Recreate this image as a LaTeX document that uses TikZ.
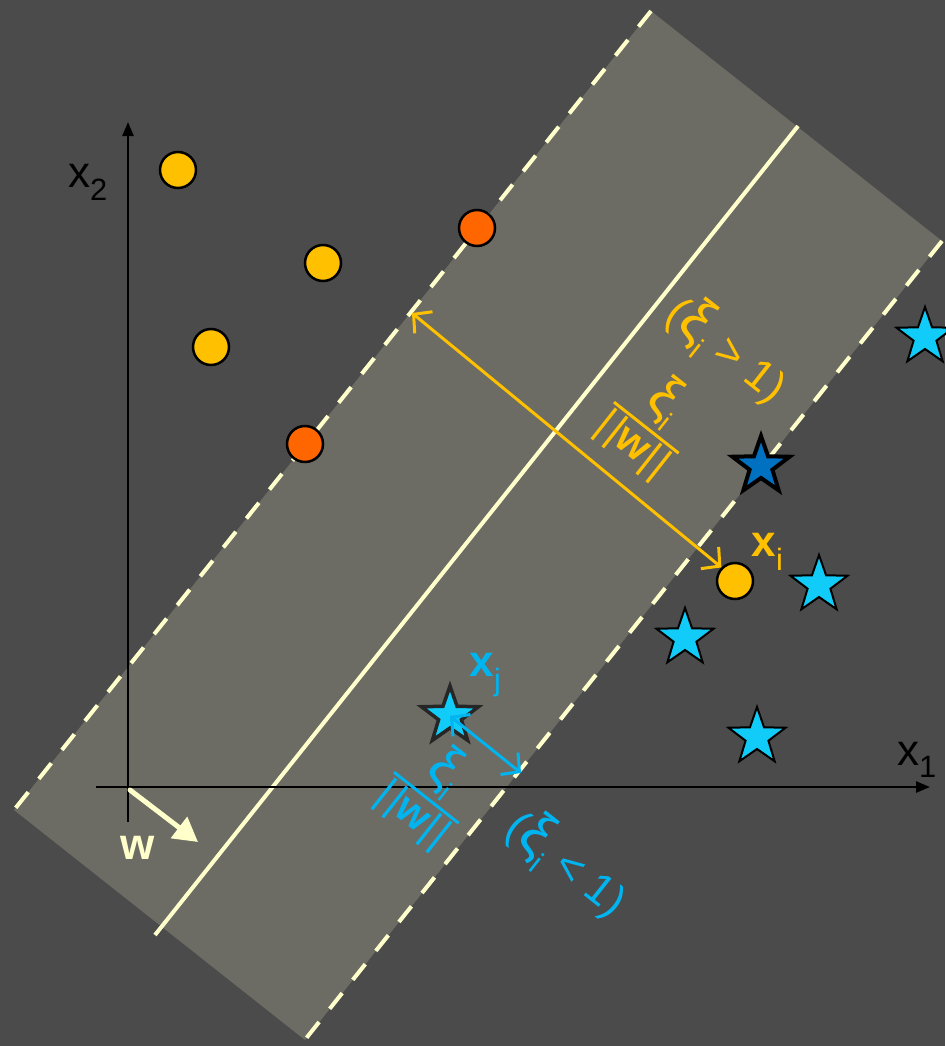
\documentclass[tikz,border=0pt]{standalone}
\usepackage{fontspec}
\usepackage{graphicx}
\setmainfont{Liberation Sans}
\usetikzlibrary{arrows.meta, shapes.geometric, positioning}
\definecolor{bgc}{HTML}{4B4B4B}
\definecolor{bandc}{HTML}{6C6C64}
\definecolor{palec}{HTML}{FFFFCC}
\definecolor{goldc}{HTML}{FFC000}
\definecolor{redc}{HTML}{FF6600}
\definecolor{starc}{HTML}{11CCF8}
\definecolor{cyanc}{HTML}{00B4F0}
\definecolor{deepc}{HTML}{0070C0}
\newcommand{\bigfont}{\fontsize{44}{48}\selectfont}
\newcommand{\fracfont}{\fontsize{42}{46}\selectfont}
\newcommand{\bigxi}{\scalebox{1.35}{ξ}}
\newcommand{\slackfrac}{\begin{tabular}{@{\hspace{1pt}}c@{\hspace{1pt}}}\bigxi\textsubscript{i}\\[3pt]\hline|\hspace{2pt}|\textbf{w}|\hspace{2pt}|\end{tabular}}

\begin{document}
\begin{tikzpicture}[x=1pt, y=-1pt,
        margin line/.style={line width=4pt, palec, dash pattern=on 20pt off 17pt},
        hyper line/.style={line width=4pt, palec},
        axis line/.style={line width=2.5pt, black, -{Triangle[length=14pt, width=11pt]}},
        dot/.style={circle, draw=black, line width=2.5pt, minimum size=36pt, inner sep=0pt},
        gold dot/.style={dot, fill=goldc},
        red dot/.style={dot, fill=redc},
        starpt/.style={star, star points=5, star point ratio=2.5, minimum size=60pt,
            inner sep=0pt, draw=black, line width=2pt, fill=starc},
        slack arrow/.style={line width=3pt, {Straight Barb[length=13pt, width=28pt]}-{Straight Barb[length=13pt, width=28pt]}},
        axis label/.style={font=\bigfont, text=black},
        slack label/.style={font=\fracfont, rotate=-38.3, inner sep=0pt},
    ]

    % Background and margin band
    \fill[bgc] (0,0) rectangle (945,1046);
    \useasboundingbox (0,0) rectangle (945,1046);
    \begin{scope}
        \clip (0,0) rectangle (945,1046);
        \fill[bandc] (651,11) -- (942,241) -- (305,1040) -- (14,810) -- cycle;
        \draw[margin line] (651,11) -- (14,810);
        \draw[margin line] (942,241) -- (300,1046);
        \draw[hyper line] (798,126) -- (155,935);
    \end{scope}

    % Axes
    \draw[axis line] (128,822) -- (128,122);
    \draw[axis line] (96,787) -- (930,787);
    \node[axis label] (lx2) at (88,182) {x\textsubscript{2}};
    \node[axis label] (lx1) at (917,760) {x\textsubscript{1}};

    % Normal vector
    \draw[palec, line width=5pt, line cap=round, -{Triangle[length=24pt, width=26pt]}] (130,790) -- (198,842);
    \node[font=\bigfont\bfseries, text=palec] (lw) at (138,848) {w};

    % Class one: circles
    \node[gold dot] (o1) at (178,170) {};
    \node[gold dot] (o2) at (323,263) {};
    \node[gold dot] (o3) at (211,347) {};
    \node[red dot] (r1) at (477,228) {};
    \node[red dot] (r2) at (305,444) {};
    \node[gold dot] (xi) at (735,581) {};
    \node[font=\bigfont, text=goldc, anchor=west] (lxi) at (748,552) {\textbf{x}\textsubscript{i}};

    % Class two: stars
    \node[starpt] (s1) at (925,337) {};
    \node[starpt] (s2) at (819,585) {};
    \node[starpt] (s3) at (685,638) {};
    \node[starpt] (s4) at (757,737) {};
    \node[starpt, fill=deepc, line width=4pt] (sd) at (761,466) {};
    \node[starpt, draw=black!85, line width=3.5pt] (xj) at (450,716) {};
    \node[font=\bigfont, text=cyanc, anchor=west] (lxj) at (466,675) {\textbf{x}\textsubscript{j}};

    % Slack distances
    \coordinate (mL) at (412,313);
    \coordinate (mR) at (521,773);
    \draw[slack arrow, goldc] (mL) -- (xi.north west);
    \draw[slack arrow, cyanc] (xj.center) -- (mR);

    % Slack labels
    \setlength{\arrayrulewidth}{3pt}
    \node[slack label, text=goldc] (fi) at (650,423) {\slackfrac};
    \node[slack label, text=cyanc] (fj) at (430,793) {\slackfrac};
    \node[slack label, font=\fontsize{44}{48}\selectfont, text=goldc] (ti) at (727,350) {(\bigxi\textsubscript{i} > 1)};
    \node[slack label, font=\fontsize{44}{48}\selectfont, text=cyanc] (tj) at (567,864) {(\bigxi\textsubscript{i} < 1)};

\end{tikzpicture}
\end{document}
